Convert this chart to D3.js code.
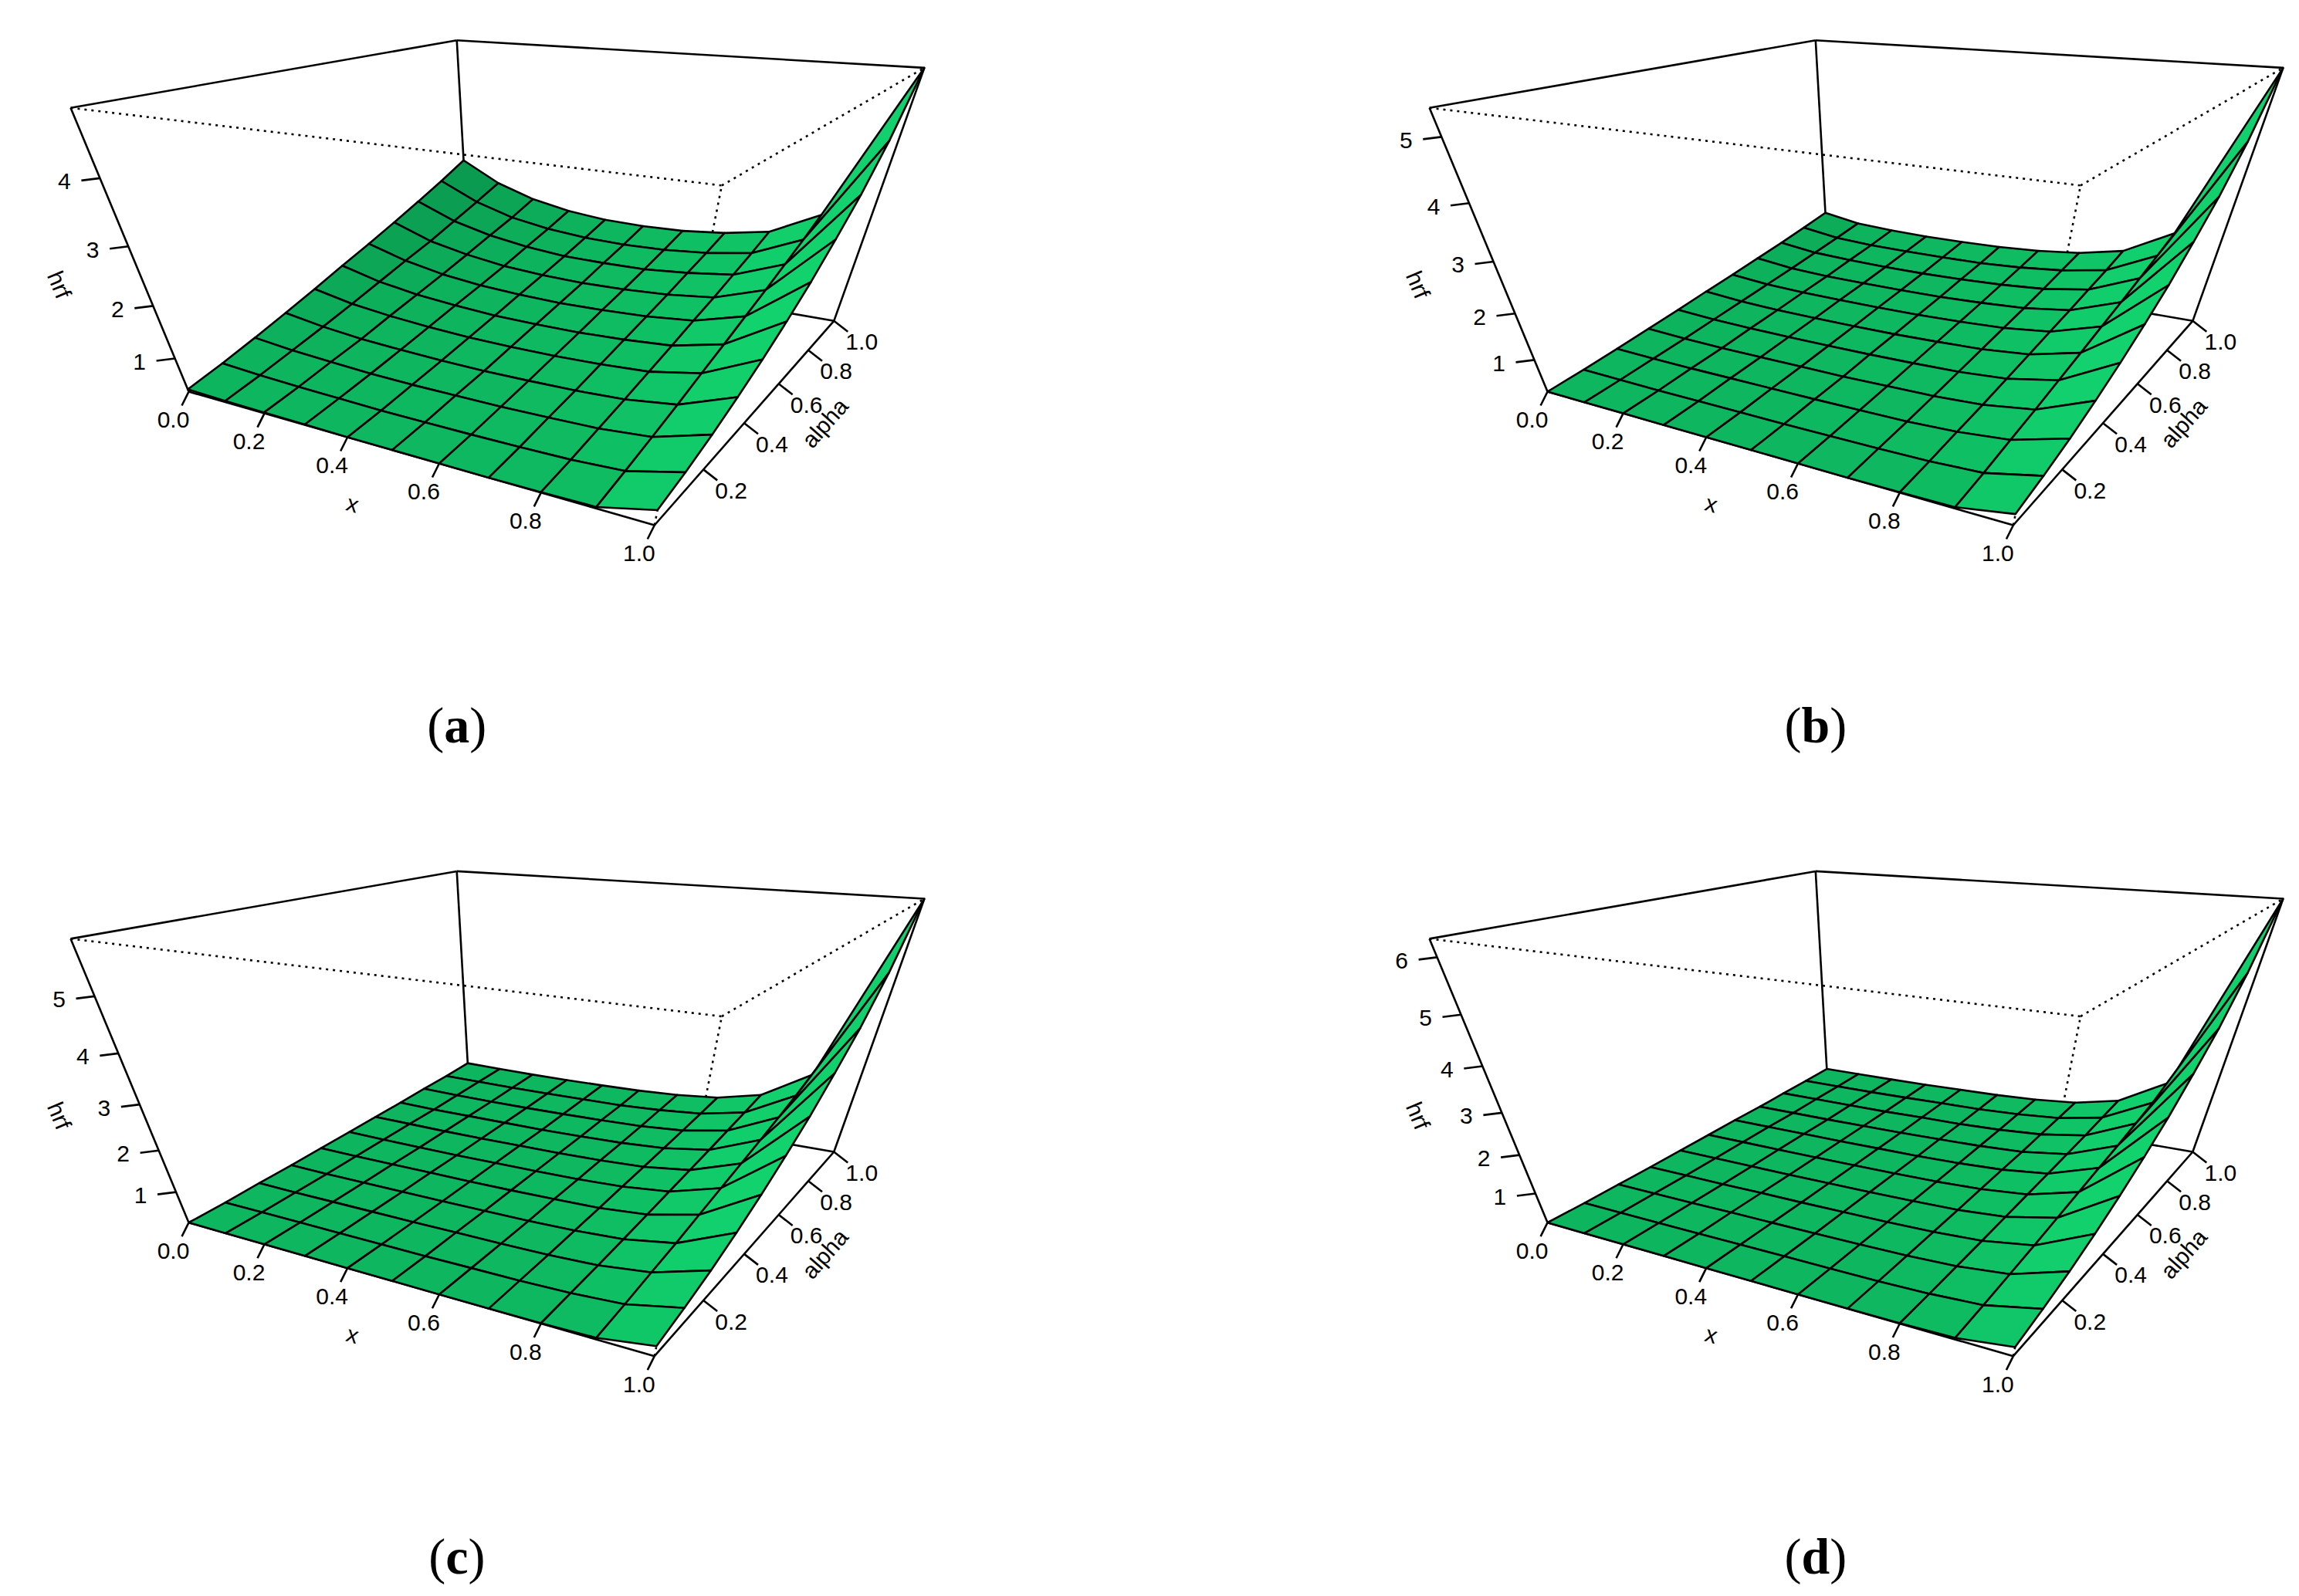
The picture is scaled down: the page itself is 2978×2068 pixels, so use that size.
<!DOCTYPE html>
<html>
<head>
<meta charset="utf-8">
<script src="https://cdn.jsdelivr.net/npm/d3@7"></script>
<style>
  body { margin: 0; background: #fff; }
  svg text { font-family: "Liberation Sans", Arial, sans-serif; }
</style>
</head>
<body>
<svg id="chart" width="2978" height="2068"></svg>
<script>
// grid of the surfaces (x across, alpha down)
const xs = [0, 0.1, 0.2, 0.3, 0.4, 0.5, 0.6, 0.7, 0.8, 0.9, 1.0];
const alphas = [0, 0.1, 0.2, 0.3, 0.4, 0.5, 0.6, 0.7, 0.8, 0.9, 1.0];
const xTicks = [0, 0.2, 0.4, 0.6, 0.8, 1.0];
const alphaTicks = [0.2, 0.4, 0.6, 0.8, 1.0];

// hrf values, rows = alpha, cols = x
const hrfA = [
  [0.35,0.33,0.32,0.31,0.30,0.30,0.30,0.30,0.31,0.33,0.60],
  [0.53,0.48,0.45,0.43,0.41,0.41,0.41,0.42,0.44,0.50,0.77],
  [0.73,0.65,0.60,0.56,0.54,0.54,0.54,0.56,0.59,0.68,0.99],
  [0.94,0.82,0.74,0.70,0.67,0.66,0.67,0.69,0.74,0.87,1.25],
  [1.16,1.00,0.91,0.85,0.81,0.80,0.81,0.84,0.90,1.08,1.55],
  [1.39,1.19,1.07,1.00,0.95,0.94,0.95,0.99,1.06,1.28,1.89],
  [1.61,1.38,1.23,1.14,1.10,1.08,1.10,1.14,1.23,1.49,2.28],
  [1.84,1.56,1.40,1.29,1.24,1.22,1.24,1.29,1.39,1.70,2.75],
  [2.08,1.77,1.58,1.46,1.39,1.38,1.39,1.46,1.57,1.92,3.27],
  [2.33,1.98,1.75,1.62,1.55,1.53,1.55,1.62,1.75,2.15,3.95],
  [2.60,2.20,1.95,1.80,1.72,1.70,1.72,1.80,1.95,2.40,4.90]
];
const hrfB = [
  [0.25,0.25,0.25,0.25,0.25,0.25,0.25,0.25,0.26,0.28,0.50],
  [0.35,0.34,0.33,0.33,0.33,0.33,0.34,0.35,0.37,0.43,0.70],
  [0.46,0.44,0.43,0.43,0.43,0.43,0.44,0.45,0.50,0.61,0.94],
  [0.58,0.54,0.52,0.52,0.52,0.52,0.54,0.56,0.62,0.78,1.24],
  [0.70,0.65,0.63,0.62,0.62,0.63,0.65,0.68,0.76,0.97,1.58],
  [0.83,0.76,0.73,0.72,0.72,0.73,0.76,0.80,0.90,1.16,1.97],
  [0.95,0.87,0.84,0.83,0.83,0.84,0.87,0.92,1.04,1.36,2.41],
  [1.08,0.98,0.94,0.93,0.93,0.94,0.98,1.04,1.18,1.55,2.95],
  [1.21,1.10,1.06,1.04,1.04,1.06,1.10,1.17,1.33,1.76,3.54],
  [1.35,1.22,1.17,1.16,1.16,1.17,1.22,1.31,1.48,1.97,4.32],
  [1.50,1.35,1.30,1.28,1.28,1.30,1.35,1.45,1.65,2.20,5.40]
];
const hrfC = [
  [0.20,0.20,0.20,0.20,0.20,0.20,0.20,0.20,0.21,0.24,0.45],
  [0.26,0.26,0.26,0.26,0.26,0.26,0.27,0.28,0.31,0.39,0.67],
  [0.34,0.33,0.33,0.33,0.33,0.34,0.34,0.36,0.41,0.56,0.94],
  [0.41,0.40,0.40,0.40,0.40,0.41,0.42,0.45,0.52,0.72,1.27],
  [0.49,0.48,0.48,0.48,0.48,0.49,0.51,0.54,0.64,0.91,1.65],
  [0.57,0.56,0.55,0.55,0.56,0.57,0.59,0.64,0.76,1.10,2.09],
  [0.65,0.64,0.63,0.63,0.64,0.65,0.68,0.73,0.88,1.28,2.58],
  [0.73,0.71,0.71,0.71,0.71,0.73,0.76,0.83,1.00,1.47,3.18],
  [0.82,0.80,0.79,0.79,0.80,0.82,0.85,0.93,1.13,1.67,3.83],
  [0.90,0.89,0.88,0.88,0.89,0.90,0.95,1.04,1.26,1.88,4.70],
  [1.00,0.98,0.97,0.97,0.98,1.00,1.05,1.15,1.40,2.10,5.90]
];
const hrfD = [
  [0.18,0.18,0.18,0.18,0.18,0.18,0.18,0.18,0.19,0.22,0.42],
  [0.23,0.23,0.23,0.23,0.24,0.24,0.24,0.25,0.28,0.36,0.66],
  [0.29,0.29,0.29,0.30,0.30,0.30,0.31,0.33,0.38,0.52,0.95],
  [0.35,0.35,0.35,0.36,0.36,0.37,0.38,0.41,0.48,0.68,1.30],
  [0.42,0.42,0.42,0.42,0.43,0.44,0.46,0.49,0.59,0.86,1.71],
  [0.49,0.49,0.49,0.49,0.50,0.51,0.53,0.58,0.70,1.04,2.18],
  [0.56,0.56,0.56,0.56,0.57,0.58,0.61,0.67,0.81,1.22,2.71],
  [0.62,0.62,0.62,0.63,0.64,0.66,0.69,0.75,0.92,1.39,3.36],
  [0.70,0.70,0.70,0.70,0.72,0.73,0.77,0.85,1.04,1.59,4.07],
  [0.77,0.77,0.77,0.78,0.80,0.81,0.86,0.95,1.17,1.79,5.01],
  [0.85,0.85,0.85,0.86,0.88,0.90,0.95,1.05,1.30,2.00,6.30]
];
const zTicksA = [1, 2, 3, 4];
const zTicksB = [1, 2, 3, 4, 5];
const zTicksC = [1, 2, 3, 4, 5];
const zTicksD = [1, 2, 3, 4, 5, 6];
const captions = ["(a)", "(b)", "(c)", "(d)"];

const panels = [
  {z: hrfA, ticks: zTicksA, col: 0, row: 0, cap: captions[0]},
  {z: hrfB, ticks: zTicksB, col: 1, row: 0, cap: captions[1]},
  {z: hrfC, ticks: zTicksC, col: 0, row: 1, cap: captions[2]},
  {z: hrfD, ticks: zTicksD, col: 1, row: 1, cap: captions[3]}
];

const S = 1.909;          // reference drawn at ~1560px wide
const panelDx = 922 * S, panelDy = 564 * S;

// where the corners of the unit box land in panel (a): [x, alpha, z, px, py]
const boxView = [
  [0,0,0, 128,266], [1,0,0, 444,356], [1,1,0, 566,218],
  [0,0,1, 48,72], [0,1,1, 310,28], [1,1,1, 627,45], [1,0,1, 490,128]
];

// fit a 3x4 projection (DLT, p34 = 1) so the box matches the view
function fitCamera(pts) {
  const A = [], b = [];
  pts.forEach(([X, Y, Z, u, v]) => {
    u *= S; v *= S;
    A.push([X, Y, Z, 1, 0, 0, 0, 0, -u*X, -u*Y, -u*Z]); b.push(u);
    A.push([0, 0, 0, 0, X, Y, Z, 1, -v*X, -v*Y, -v*Z]); b.push(v);
  });
  const n = 11;
  const M = d3.range(n).map(i => d3.range(n + 1).map(j =>
    j < n ? d3.sum(A, r => r[i] * r[j]) : d3.sum(A, (r, k) => r[i] * b[k])));
  for (let i = 0; i < n; i++) {
    let p = i;
    for (let k = i + 1; k < n; k++) if (Math.abs(M[k][i]) > Math.abs(M[p][i])) p = k;
    [M[i], M[p]] = [M[p], M[i]];
    for (let k = 0; k < n; k++) {
      if (k == i) continue;
      const f = M[k][i] / M[i][i];
      for (let j = i; j <= n; j++) M[k][j] -= f * M[i][j];
    }
  }
  return M.map((r, i) => r[n] / r[i]);
}
const P = fitCamera(boxView);

function project(X, Y, Z, ox, oy) {
  const w = P[8]*X + P[9]*Y + P[10]*Z + 1;
  return [(P[0]*X + P[1]*Y + P[2]*Z + P[3]) / w + ox,
          (P[4]*X + P[5]*Y + P[6]*Z + P[7]) / w + oy, w];
}
const nearW = project(1, 0, 0, 0, 0)[2], farW = project(0, 1, 0, 0, 0)[2];
const farFirst = farW > nearW ? -1 : 1;

const light = (() => { const l = [-1, -0.4, 0.5], m = Math.hypot(...l); return l.map(d => d / m); })();
const shade = d3.interpolateRgb("#046a36", "#12d26e");

const svg = d3.select("#chart");

panels.forEach(pn => {
  const ox = pn.col * panelDx, oy = pn.row * panelDy;
  const flat = pn.z.flat();
  const zs = d3.scaleLinear().domain(d3.extent(flat)).range([0, 1]);
  const pr = (x, a, z) => project(x, a, z, ox, oy);
  const g = svg.append("g");
  const line = (a, b, dash) => g.append("line")
    .attr("x1", a[0]).attr("y1", a[1]).attr("x2", b[0]).attr("y2", b[1])
    .attr("stroke", "#000").attr("stroke-width", 2.6)
    .attr("stroke-dasharray", dash ? "3,6" : null);
  const off = (p, dx, dy) => [p[0] + dx, p[1] + dy];

  // box edges
  const solid = [[[0,0,0],[1,0,0]], [[1,0,0],[1,1,0]], [[1,1,0],[0,1,0]], [[0,1,0],[0,0,0]],
                 [[0,0,0],[0,0,1]], [[0,1,0],[0,1,1]], [[1,1,0],[1,1,1]],
                 [[0,0,1],[0,1,1]], [[0,1,1],[1,1,1]]];
  const dotted = [[[0,0,1],[1,0,1]], [[1,0,1],[1,1,1]], [[1,0,0],[1,0,1]]];
  solid.forEach(([a, b]) => line(pr(...a), pr(...b), false));
  dotted.forEach(([a, b]) => line(pr(...a), pr(...b), true));

  // surface facets, far ones first
  const quads = [];
  for (let i = 0; i < alphas.length - 1; i++) {
    for (let j = 0; j < xs.length - 1; j++) {
      const c = [[j, i], [j + 1, i], [j + 1, i + 1], [j, i + 1]]
        .map(([jj, ii]) => [xs[jj], alphas[ii], zs(pn.z[ii][jj])]);
      const pts = c.map(q => pr(...q));
      const u = [c[2][0] - c[0][0], c[2][1] - c[0][1], c[2][2] - c[0][2]];
      const v = [c[3][0] - c[1][0], c[3][1] - c[1][1], c[3][2] - c[1][2]];
      let nrm = [u[1]*v[2] - u[2]*v[1], u[2]*v[0] - u[0]*v[2], u[0]*v[1] - u[1]*v[0]];
      if (nrm[2] < 0) nrm = nrm.map(d => -d);
      const m = Math.hypot(...nrm);
      const dot = (nrm[0]*light[0] + nrm[1]*light[1] + nrm[2]*light[2]) / m;
      quads.push({pts, depth: d3.mean(pts, p => p[2]), t: (1 + dot) / 2});
    }
  }
  quads.sort((a, b) => farFirst * (a.depth - b.depth));
  g.selectAll("path.facet").data(quads).join("path")
    .attr("class", "facet")
    .attr("d", d => "M" + d.pts.map(p => p[0] + "," + p[1]).join("L") + "Z")
    .attr("fill", d => shade(d.t))
    .attr("stroke", "#000").attr("stroke-width", 2.6).attr("stroke-linejoin", "round");

  const fs = 30;
  const label = (p, txt, rot) => g.append("text")
    .attr("transform", `translate(${p[0]},${p[1]}) rotate(${rot || 0})`)
    .attr("text-anchor", "middle").attr("dominant-baseline", "central")
    .attr("font-size", fs).text(txt);
  const angle = (a, b) => Math.atan2(b[1] - a[1], b[0] - a[0]) * 180 / Math.PI;

  // x axis ticks
  xTicks.forEach(t => {
    const p = pr(t, 0, 0);
    line(p, off(p, -9, 18), false);
    label(off(p, -20, 36), d3.format(".1f")(t));
  });
  label(off(pr(0.45, 0, 0), -22, 78), "x", angle(pr(0, 0, 0), pr(1, 0, 0)));
  // alpha axis ticks
  alphaTicks.forEach(t => {
    const p = pr(1, t, 0);
    line(p, off(p, 18, 14), false);
    label(off(p, 36, 27), d3.format(".1f")(t));
  });
  label(off(pr(1, 0.58, 0), 64, 46), "alpha", angle(pr(1, 0, 0), pr(1, 1, 0)));
  // hrf axis ticks
  pn.ticks.forEach(t => {
    const p = pr(0, 0, zs(t));
    line(p, off(p, -24, 3), false);
    label(off(p, -46, 4), t);
  });
  label(off(pr(0, 0, 0.45), -110, 0), "hrf", angle(pr(0, 0, 1), pr(0, 0, 0)));

  // caption
  const cap = g.append("text")
    .attr("x", ox + 310 * S).attr("y", oy + 492 * S)
    .attr("text-anchor", "middle").attr("dominant-baseline", "central")
    .style("font-family", "'Liberation Serif', 'DejaVu Serif', serif").style("font-size", "66px");
  cap.append("tspan").text("(");
  cap.append("tspan").attr("font-weight", "bold").text(pn.cap.slice(1, 2));
  cap.append("tspan").text(")");
});
</script>
</body>
</html>
